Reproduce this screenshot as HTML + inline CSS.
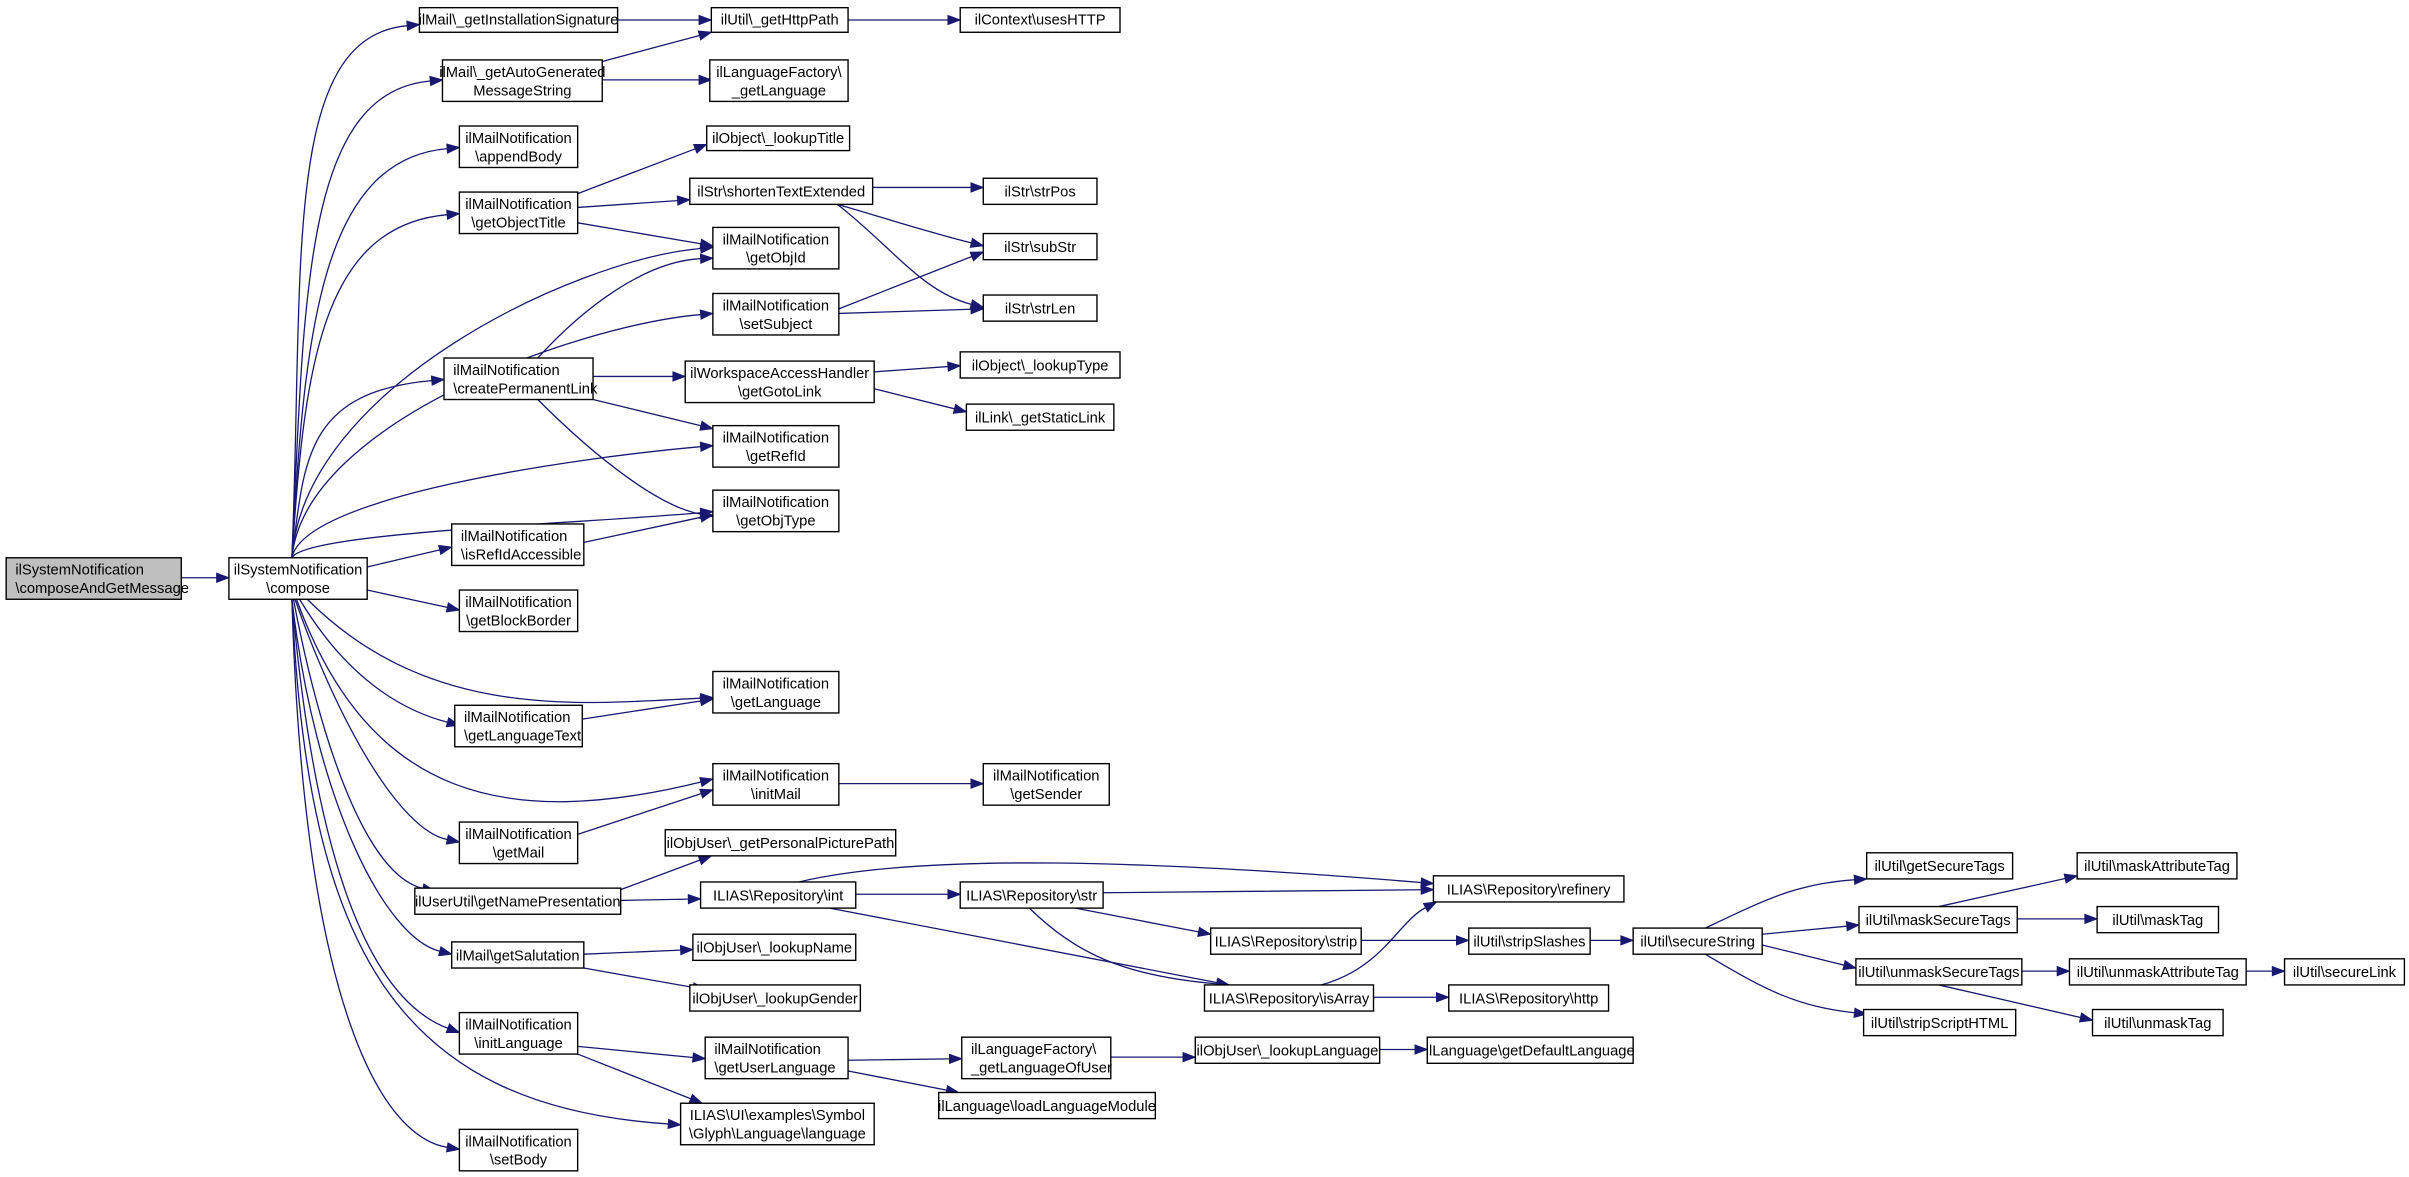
<!DOCTYPE html>
<html><head><meta charset="utf-8"><style>
html,body{margin:0;padding:0;background:#fff;width:2409px;height:1177px;overflow:hidden}
svg{display:block}
text{font-family:"Liberation Sans",sans-serif;font-size:9.6px;fill:#000}
rect{fill:#fff;stroke:#000;stroke-width:0.9}
path.e{fill:none;stroke:#191970;stroke-width:0.85}
polygon.a{fill:#191970;stroke:#191970;stroke-width:0.6}
</style></head><body>
<svg id="s" width="2409" height="1177" viewBox="0 0 1568 766" preserveAspectRatio="none" xmlns="http://www.w3.org/2000/svg">
<g id="edges"></g>
<g id="nodes">
<rect x="4" y="363" width="114" height="27" style="fill:#bfbfbf"/><text x="10" y="374">ilSystemNotification</text><text x="10" y="386">\composeAndGetMessage</text>
<rect x="149" y="363" width="90" height="27"/><text x="194" y="374" text-anchor="middle">ilSystemNotification</text><text x="194" y="386" text-anchor="middle">\compose</text>

<rect x="273" y="5" width="129" height="16"/><text x="337.5" y="16" text-anchor="middle">ilMail\_getInstallationSignature</text>
<rect x="288" y="39" width="104" height="27"/><text x="340" y="50" text-anchor="middle">ilMail\_getAutoGenerated</text><text x="340" y="62" text-anchor="middle">MessageString</text>
<rect x="299" y="82" width="77" height="27"/><text x="337.5" y="93" text-anchor="middle">ilMailNotification</text><text x="337.5" y="105" text-anchor="middle">\appendBody</text>
<rect x="299" y="125" width="77" height="27"/><text x="337.5" y="136" text-anchor="middle">ilMailNotification</text><text x="337.5" y="148" text-anchor="middle">\getObjectTitle</text>
<rect x="289" y="233" width="97" height="27"/><text x="295" y="244">ilMailNotification</text><text x="295" y="256">\createPermanentLink</text>
<rect x="294" y="341" width="86" height="27"/><text x="300" y="352">ilMailNotification</text><text x="300" y="364">\isRefIdAccessible</text>
<rect x="299" y="384" width="77" height="27"/><text x="337.5" y="395" text-anchor="middle">ilMailNotification</text><text x="337.5" y="407" text-anchor="middle">\getBlockBorder</text>
<rect x="296" y="459" width="83" height="27"/><text x="302" y="470">ilMailNotification</text><text x="302" y="482">\getLanguageText</text>
<rect x="299" y="535" width="77" height="27"/><text x="337.5" y="546" text-anchor="middle">ilMailNotification</text><text x="337.5" y="558" text-anchor="middle">\getMail</text>
<rect x="270" y="578" width="134" height="17"/><text x="337" y="590" text-anchor="middle">ilUserUtil\getNamePresentation</text>
<rect x="294" y="613" width="86" height="17"/><text x="337" y="625" text-anchor="middle">ilMail\getSalutation</text>
<rect x="299" y="659" width="77" height="27"/><text x="337.5" y="670" text-anchor="middle">ilMailNotification</text><text x="337.5" y="682" text-anchor="middle">\initLanguage</text>
<rect x="299" y="735" width="77" height="27"/><text x="337.5" y="746" text-anchor="middle">ilMailNotification</text><text x="337.5" y="758" text-anchor="middle">\setBody</text>

<rect x="463" y="5" width="89" height="16"/><text x="507.5" y="16" text-anchor="middle">ilUtil\_getHttpPath</text>
<rect x="462" y="39" width="90" height="27"/><text x="507" y="50" text-anchor="middle">ilLanguageFactory\</text><text x="507" y="62" text-anchor="middle">_getLanguage</text>
<rect x="460" y="82" width="93" height="16"/><text x="506.5" y="93" text-anchor="middle">ilObject\_lookupTitle</text>
<rect x="449" y="116" width="119" height="17"/><text x="508.5" y="128" text-anchor="middle">ilStr\shortenTextExtended</text>
<rect x="464" y="148" width="82" height="27"/><text x="505" y="159" text-anchor="middle">ilMailNotification</text><text x="505" y="171" text-anchor="middle">\getObjId</text>
<rect x="464" y="191" width="82" height="27"/><text x="505" y="202" text-anchor="middle">ilMailNotification</text><text x="505" y="214" text-anchor="middle">\setSubject</text>
<rect x="446" y="235" width="123" height="27"/><text x="507.5" y="246" text-anchor="middle">ilWorkspaceAccessHandler</text><text x="507.5" y="258" text-anchor="middle">\getGotoLink</text>
<rect x="464" y="277" width="82" height="27"/><text x="505" y="288" text-anchor="middle">ilMailNotification</text><text x="505" y="300" text-anchor="middle">\getRefId</text>
<rect x="464" y="319" width="82" height="27"/><text x="505" y="330" text-anchor="middle">ilMailNotification</text><text x="505" y="342" text-anchor="middle">\getObjType</text>
<rect x="464" y="437" width="82" height="27"/><text x="505" y="448" text-anchor="middle">ilMailNotification</text><text x="505" y="460" text-anchor="middle">\getLanguage</text>
<rect x="464" y="497" width="82" height="27"/><text x="505" y="508" text-anchor="middle">ilMailNotification</text><text x="505" y="520" text-anchor="middle">\initMail</text>
<rect x="433" y="540" width="150" height="17"/><text x="508" y="552" text-anchor="middle">ilObjUser\_getPersonalPicturePath</text>
<rect x="456" y="574" width="101" height="17"/><text x="506.5" y="586" text-anchor="middle">ILIAS\Repository\int</text>
<rect x="451" y="608" width="106" height="17"/><text x="504" y="620" text-anchor="middle">ilObjUser\_lookupName</text>
<rect x="449" y="641" width="111" height="17"/><text x="504.5" y="653" text-anchor="middle">ilObjUser\_lookupGender</text>
<rect x="459" y="675" width="93" height="27"/><text x="465" y="686">ilMailNotification</text><text x="465" y="698">\getUserLanguage</text>
<rect x="443" y="718" width="126" height="27"/><text x="506" y="729" text-anchor="middle">ILIAS\UI\examples\Symbol</text><text x="506" y="741" text-anchor="middle">\Glyph\Language\language</text>

<rect x="625" y="5" width="104" height="16"/><text x="677" y="16" text-anchor="middle">ilContext\usesHTTP</text>
<rect x="640" y="116" width="74" height="17"/><text x="677" y="128" text-anchor="middle">ilStr\strPos</text>
<rect x="640" y="152" width="74" height="17"/><text x="677" y="164" text-anchor="middle">ilStr\subStr</text>
<rect x="640" y="192" width="74" height="17"/><text x="677" y="204" text-anchor="middle">ilStr\strLen</text>
<rect x="625" y="229" width="104" height="17"/><text x="677" y="241" text-anchor="middle">ilObject\_lookupType</text>
<rect x="629" y="263" width="96" height="17"/><text x="677" y="275" text-anchor="middle">ilLink\_getStaticLink</text>
<rect x="640" y="497" width="82" height="27"/><text x="681" y="508" text-anchor="middle">ilMailNotification</text><text x="681" y="520" text-anchor="middle">\getSender</text>
<rect x="625" y="574" width="93" height="17"/><text x="671.5" y="586" text-anchor="middle">ILIAS\Repository\str</text>
<rect x="626" y="675" width="97" height="27"/><text x="632" y="686">ilLanguageFactory\</text><text x="632" y="698">_getLanguageOfUser</text>
<rect x="611" y="711" width="141" height="17"/><text x="681.5" y="723" text-anchor="middle">ilLanguage\loadLanguageModule</text>

<rect x="933" y="570" width="124" height="17"/><text x="995" y="582" text-anchor="middle">ILIAS\Repository\refinery</text>
<rect x="788" y="604" width="98" height="17"/><text x="837" y="616" text-anchor="middle">ILIAS\Repository\strip</text>
<rect x="784" y="641" width="110" height="17"/><text x="839" y="653" text-anchor="middle">ILIAS\Repository\isArray</text>
<rect x="956" y="604" width="79" height="17"/><text x="995.5" y="616" text-anchor="middle">ilUtil\stripSlashes</text>
<rect x="943" y="641" width="104" height="17"/><text x="995" y="653" text-anchor="middle">ILIAS\Repository\http</text>
<rect x="778" y="675" width="120" height="17"/><text x="838" y="687" text-anchor="middle">ilObjUser\_lookupLanguage</text>
<rect x="929" y="675" width="134" height="17"/><text x="996" y="687" text-anchor="middle">ilLanguage\getDefaultLanguage</text>

<rect x="1063" y="604" width="84" height="17"/><text x="1105" y="616" text-anchor="middle">ilUtil\secureString</text>
<rect x="1215" y="555" width="95" height="17"/><text x="1262.5" y="567" text-anchor="middle">ilUtil\getSecureTags</text>
<rect x="1210" y="590" width="103" height="17"/><text x="1261.5" y="602" text-anchor="middle">ilUtil\maskSecureTags</text>
<rect x="1208" y="624" width="108" height="17"/><text x="1262" y="636" text-anchor="middle">ilUtil\unmaskSecureTags</text>
<rect x="1213" y="657" width="99" height="17"/><text x="1262.5" y="669" text-anchor="middle">ilUtil\stripScriptHTML</text>
<rect x="1352" y="555" width="104" height="17"/><text x="1404" y="567" text-anchor="middle">ilUtil\maskAttributeTag</text>
<rect x="1365" y="590" width="79" height="17"/><text x="1404.5" y="602" text-anchor="middle">ilUtil\maskTag</text>
<rect x="1347" y="624" width="115" height="17"/><text x="1404.5" y="636" text-anchor="middle">ilUtil\unmaskAttributeTag</text>
<rect x="1362" y="657" width="85" height="17"/><text x="1404.5" y="669" text-anchor="middle">ilUtil\unmaskTag</text>
<rect x="1487" y="624" width="78" height="17"/><text x="1526" y="636" text-anchor="middle">ilUtil\secureLink</text>
</g>
<script><![CDATA[
(function(){
var g=document.getElementById('edges'),NS='http://www.w3.org/2000/svg';
function P(d){var p=document.createElementNS(NS,'path');p.setAttribute('d',d);p.setAttribute('class','e');g.appendChild(p);}
function A(x,y,fx,fy){var dx=x-fx,dy=y-fy,l=Math.sqrt(dx*dx+dy*dy)||1;dx/=l;dy/=l;var L=8,W=3;
var bx=x-dx*L,by=y-dy*L;var q=document.createElementNS(NS,'polygon');
q.setAttribute('points',x+','+y+' '+(bx-dy*W)+','+(by+dx*W)+' '+(bx+dy*W)+','+(by-dx*W));q.setAttribute('class','a');g.appendChild(q);}
// cubic: s(x,y), c1, c2, end
function C(sx,sy,c1x,c1y,c2x,c2y,tx,ty){
 var ex=tx-0,ey=ty; // arrow tip at target
 var dx=ex-c2x,dy=ey-c2y,l=Math.sqrt(dx*dx+dy*dy)||1;
 var px=ex-dx/l*8,py=ey-dy/l*8;
 P('M'+sx+','+sy+' C'+c1x+','+c1y+' '+c2x+','+c2y+' '+px+','+py);
 A(ex,ey,c2x,c2y);}
function L(sx,sy,tx,ty){C(sx,sy,sx+(tx-sx)*0.3,sy+(ty-sy)*0.3,sx+(tx-sx)*0.7,sy+(ty-sy)*0.7,tx,ty);}
// compose edges (vertical fan)
function F(tx,ty,up){var sx=up?190:191,sy=up?363:390;
 C(sx,sy,sx+8,sy+(ty-sy)*0.55,tx-90,ty+(up?8:-8)*(1),tx,ty);}
L(118,376,149,376);
F(273,16,1);F(288,52,1);F(299,96,1);F(299,139,1);
F(464,161,1);F(464,204,1);F(289,247,1);F(464,290,1);F(464,333,1);
L(239,369,294,356);L(239,384,299,397);
C(200,390,280,470,380,458,464,454);
C(195,390,225,440,260,462,299,472);
C(193,390,240,520,330,540,464,507);
C(192,390,220,470,260,540,299,548);
C(191,390,210,490,240,570,283,580);
C(190,390,205,520,250,610,294,621);
C(190,390,205,560,240,650,299,672);
C(190,390,200,620,260,720,443,732);
C(190,390,198,660,250,740,299,748);
// C column outs
L(402,13,463,13);L(392,40,463,21);L(392,52,463,52);
L(376,126,460,94);L(376,135,449,130);L(376,145,464,160);
L(386,245,446,245);L(386,260,464,279);
C(350,233,380,200,420,170,464,168);
C(350,260,390,300,430,330,464,336);
L(380,353,464,335);L(379,468,464,455);L(376,543,464,514);
L(404,579,463,557);L(404,586,456,585);
L(380,621,451,618);L(380,630,459,644);
L(376,681,459,689);L(376,686,457,718);
// D column outs
L(552,13,625,13);L(568,122,640,122);
C(545,133,570,140,600,150,640,160);
C(545,133,580,160,600,190,640,200);
L(546,201,640,164);L(546,204,640,201);
L(569,242,625,238);L(569,253,629,268);
L(546,510,640,510);
L(557,582,625,582);
C(520,574,600,555,750,560,933,575);
L(540,591,800,641);
L(552,690,626,689);L(552,697,624,711);
// E/F
L(718,581,933,579);L(700,591,788,608);
C(670,591,700,620,730,635,800,641);
L(886,612,956,612);
C(860,641,900,630,910,600,935,587);
L(894,649,943,649);
L(723,688,778,688);L(898,683,929,683);
L(1035,612,1063,612);
C(1110,604,1150,585,1170,575,1215,572);
L(1147,608,1210,602);L(1147,615,1208,630);
C(1110,621,1150,645,1170,655,1215,660);
L(1262,590,1352,570);L(1313,598,1365,598);
L(1316,632,1347,632);L(1262,641,1362,664);L(1462,632,1487,632);
})();
]]></script>
</svg>
</body></html>
